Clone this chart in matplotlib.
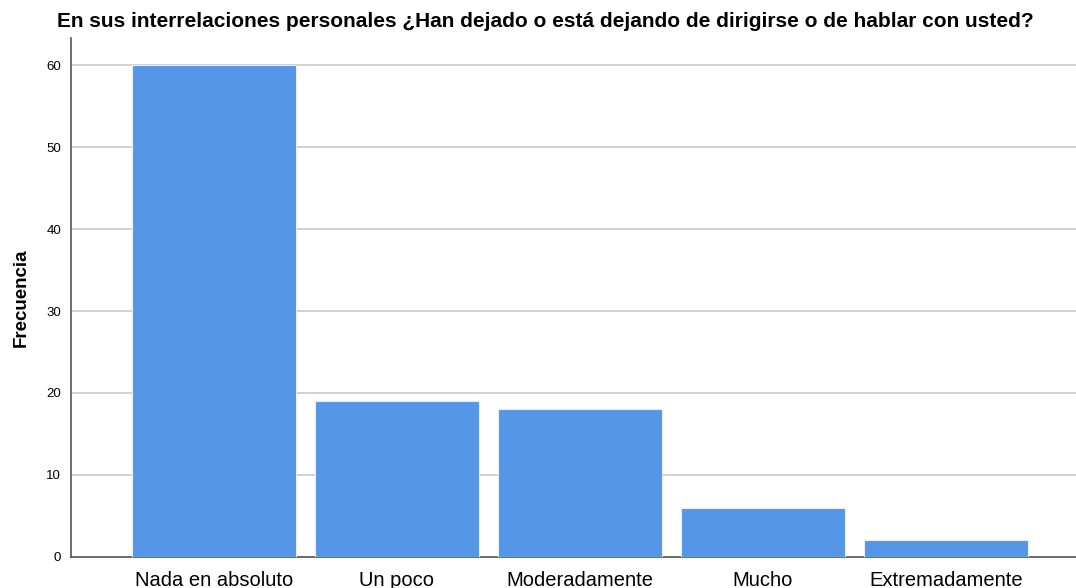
import matplotlib

matplotlib.use("Agg")
import matplotlib.pyplot as plt

categories = ["Nada en absoluto", "Un poco", "Moderadamente", "Mucho", "Extremadamente"]
frequencies = [60, 19, 18, 6, 2]
y_ticks = [0, 10, 20, 30, 40, 50, 60]

title = "En sus interrelaciones personales ¿Han dejado o está dejando de dirigirse o de hablar con usted?"

plt.rcParams["font.family"] = ["Liberation Sans", "DejaVu Sans"]

fig = plt.figure(figsize=(10.76, 5.88), dpi=100)
ax = fig.add_axes([0.066, 0.053, 0.934, 0.882])

x = range(len(categories))
ax.bar(x, frequencies, width=0.895, color="#5596E6", edgecolor="#e8eef8", linewidth=0.8, zorder=3)

ax.set_xlim(-0.78, 4.71)
ax.set_ylim(0, 63.3)
ax.set_yticks(y_ticks)
ax.set_xticks(list(x))
ax.set_xticklabels(categories, fontsize=14.5)
ax.tick_params(axis="y", length=0, labelsize=9.5, pad=7)
ax.tick_params(axis="x", length=0, pad=10)
ax.yaxis.grid(True, color="#cfcfcf", linewidth=1.3, zorder=0)
ax.set_axisbelow(True)

for side in ["top", "right"]:
    ax.spines[side].set_visible(False)
for side in ["left", "bottom"]:
    ax.spines[side].set_color("#555555")
    ax.spines[side].set_linewidth(1.2)

ax.set_ylabel("Frecuencia", fontsize=13.5, fontweight="bold", labelpad=12)
fig.text(0.507, 0.963, title, ha="center", va="center", fontsize=15, fontweight="bold")

fig.savefig("out.png", dpi=100)
